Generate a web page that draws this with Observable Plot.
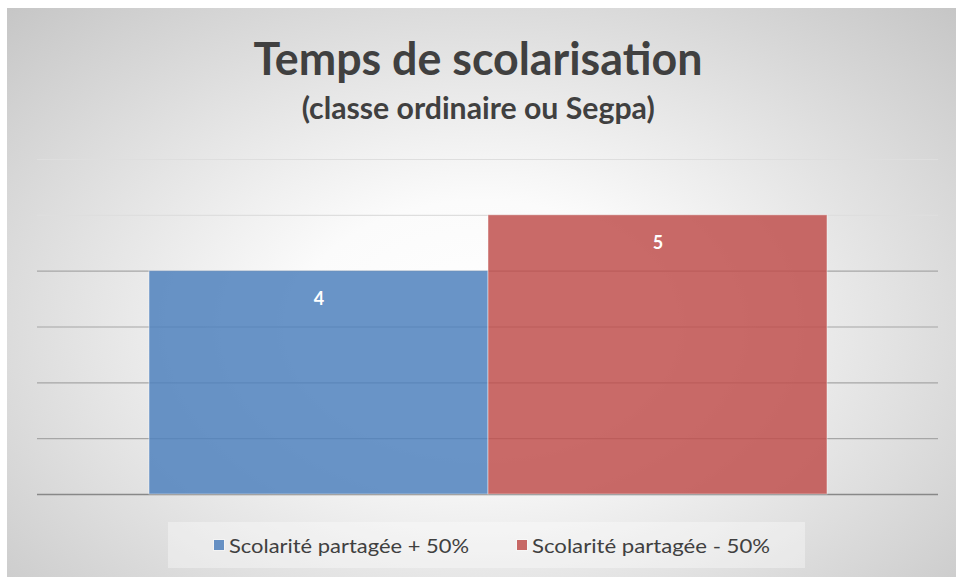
<!DOCTYPE html>
<html>
<head>
<meta charset="utf-8">
<script src="https://cdn.jsdelivr.net/npm/d3@7"></script>
<script src="https://cdn.jsdelivr.net/npm/@observablehq/plot@0.6"></script>
<style>
  html, body { margin: 0; padding: 0; background: #ffffff; }
  #wrap { position: relative; width: 956px; height: 577px; overflow: hidden; font-family: Lato, "Open Sans", sans-serif; color: #404040; }
  #bg { position: absolute; left: 7px; top: 8px; right: 0; bottom: 0;
        background: radial-gradient(ellipse farthest-corner at 50% 56%, #ffffff 0%, #fbfbfb 28%, #c6c6c6 100%); }
  .fit { position: absolute; left: 0; width: 956px; text-align: center; white-space: nowrap; }
  .fit span { display: inline-block; transform-origin: 50% 50%; }
  #title { top: 29px; font-size: 46px; font-weight: 700; line-height: 58px; }
  #subtitle { top: 88px; font-size: 30px; font-weight: 700; line-height: 38px; }
  #plot { position: absolute; left: 0; top: 130px; }
  #legend { position: absolute; left: 168px; top: 522px; width: 637px; height: 46px; background: rgba(255,255,255,0.35); }
  .li { position: absolute; top: 0; height: 46px; display: flex; align-items: center; font-size: 20px; white-space: nowrap; }
  .sw { width: 10px; height: 10px; margin-right: 5px; flex: none; }
</style>
</head>
<body>
<div id="wrap">
  <div id="bg"></div>
  <div id="title" class="fit"><span data-w="449">Temps de scolarisation</span></div>
  <div id="subtitle" class="fit"><span data-w="353">(classe ordinaire ou Segpa)</span></div>
  <div id="plot"></div>
  <div id="legend"></div>
</div>
<script>
const categories = ["Scolarité partagée + 50%", "Scolarité partagée - 50%"];
const values = [4, 5];
const yTicks = [0, 1, 2, 3, 4, 5, 6];

const data = categories.map((c, i) => ({cat: c, value: values[i]}));
const barColors = ["#4f81bd", "#c0504d"];

const chart = Plot.plot({
  width: 956,
  height: 380,
  marginTop: 29,
  marginBottom: 16,
  marginLeft: 37,
  marginRight: 18,
  style: {background: "transparent", fontFamily: "Lato, 'Open Sans', sans-serif"},
  x: {type: "band", domain: categories, paddingInner: 0, paddingOuter: 0.327, axis: null},
  y: {domain: [0, 6], axis: null},
  color: {domain: categories, range: barColors},
  marks: [
    Plot.ruleY(yTicks, {filter: d => d >= 5, stroke: "#dedede", strokeWidth: 1.2}),
    Plot.ruleY(yTicks, {filter: d => d > 0 && d < 5, stroke: "#a6a6a6", strokeWidth: 1.2}),
    Plot.ruleY(yTicks, {filter: d => d === 0, stroke: "#888888", strokeWidth: 1.4}),
    Plot.barY(data, {x: "cat", y: "value", fill: "cat", fillOpacity: 0.85, stroke: "#ffffff", strokeOpacity: 0.45, strokeWidth: 1}),
    Plot.text(data, {x: "cat", y: "value", text: d => String(d.value), dy: 28, fill: "white", fontWeight: "bold", fontSize: 18})
  ]
});
document.getElementById("plot").appendChild(chart);

// legend
const legend = d3.select("#legend");
const legendLeft = [46, 349];
const legendW = [256, 254];
categories.forEach((c, i) => {
  const item = legend.append("div").attr("class", "li").style("left", legendLeft[i] + "px");
  item.append("div").attr("class", "sw")
    .style("background", barColors[i]).style("opacity", 0.85)
    .style("outline", "1px solid rgba(255,255,255,0.5)");
  item.append("span").attr("class", "lt").attr("data-w", legendW[i] - 16).style("display", "inline-block").style("transform-origin", "0 50%").text(c);
});

// fit text widths to the reference
document.querySelectorAll("[data-w]").forEach(el => {
  const w = el.getBoundingClientRect().width;
  const target = +el.getAttribute("data-w");
  if (w > 0) el.style.transform = `scaleX(${target / w})`;
});
</script>
</body>
</html>
